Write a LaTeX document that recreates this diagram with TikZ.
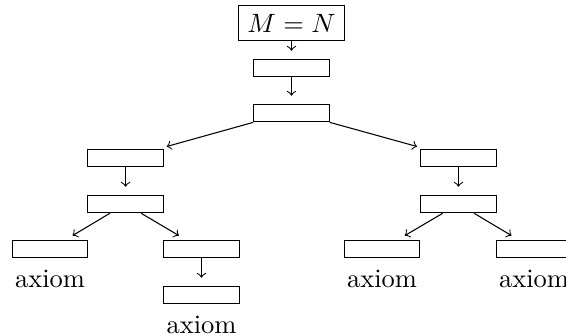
\documentclass[tikz,border=0pt]{standalone}
\begin{document}
\begin{tikzpicture}[x=0.37736pt,y=-0.37736pt,
  box/.style={draw,minimum width=1cm,inner sep=0.3333em},
  lbl/.style={anchor=base,inner sep=0pt},
  arr/.style={->,shorten >=3pt}]
\useasboundingbox (0,0) rectangle (566,336);
\node[box] (top) at (291.5,23) {$M=N$};
\node[box] (b2) at (291.5,68) {};
\node[box] (b3) at (291.5,113) {};
\node[box] (l1) at (125.5,158) {};
\node[box] (l2) at (125.5,204) {};
\node[box] (ll) at (50,249) {};
\node[box] (lr) at (201.5,249) {};
\node[box] (lrr) at (201.5,295) {};
\node[box] (r1) at (458.5,158) {};
\node[box] (r2) at (458.5,204) {};
\node[box] (rl) at (382,249) {};
\node[box] (rr) at (534,249) {};
\node[lbl] (all) at (50,287) {axiom};
\node[lbl] (alrr) at (201.5,333) {axiom};
\node[lbl] (arl) at (382,287) {axiom};
\node[lbl] (arr) at (534,287) {axiom};
\draw[arr] (top) -- (b2);
\draw[arr] (b2) -- (b3);
\draw[arr] (b3.south west) -- (l1);
\draw[arr] (b3.south east) -- (r1);
\draw[arr] (l1) -- (l2);
\draw[arr] (l2) -- (ll);
\draw[arr] (l2) -- (lr);
\draw[arr] (lr) -- (lrr);
\draw[arr] (r1) -- (r2);
\draw[arr] (r2) -- (rl);
\draw[arr] (r2) -- (rr);
\end{tikzpicture}
\end{document}
